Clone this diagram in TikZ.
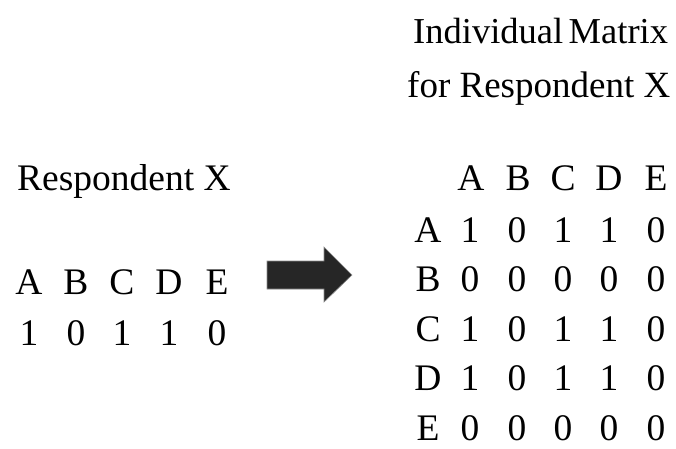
\documentclass[tikz,border=0pt]{standalone}
\usepackage{fontspec}
\setmainfont{Liberation Serif}
\usetikzlibrary{positioning}

\begin{document}
\begin{tikzpicture}[
x=1pt, y=-1pt,
txt/.style={inner sep=0pt, anchor=base, font=\fontsize{37.5}{40}\selectfont},
arrowfill/.style={fill=black!85, draw=black!45, line width=0.6pt}
]
	\useasboundingbox (0,0) rectangle (676,448);

	\node [txt, anchor=base west, font=\fontsize{36.5}{40}\selectfont] at (413,43) (title1) {Individual\hspace{0.15em}Matrix};
	\node [txt, anchor=base west, font=\fontsize{37}{40}\selectfont] at (407,97) (title2) {for Respondent X};
	\node [txt, anchor=base west] at (17,190) (resp) {Respondent X};

	% respondent row
	\foreach \l/\v/\x in {A/1/29, B/0/76, C/1/122, D/1/169, E/0/217} {
		\node [txt] at (\x,294) (top\l) {\l};
		\node [txt] at (\x,345) (val\l) {\v};
	}

	% arrow
	\fill [arrowfill] (267,261) -- (324,261) -- (324,247) -- (352,275)
		-- (324,302) -- (324,289) -- (267,289) -- cycle;

	% matrix
	\foreach \l/\x in {A/471, B/518, C/563, D/609, E/656}
		\node [txt] at (\x,190) (col\l) {\l};
	\foreach \l/\y/\va/\vb/\vc/\vd/\ve in {A/242/1/0/1/1/0, B/291.5/0/0/0/0/0,
			C/341/1/0/1/1/0, D/390.5/1/0/1/1/0, E/440/0/0/0/0/0} {
		\node [txt] at (428,\y) (row\l) {\l};
		\node [txt] at (470,\y) (m\l A) {\va};
		\node [txt] at (517,\y) (m\l B) {\vb};
		\node [txt] at (563,\y) (m\l C) {\vc};
		\node [txt] at (609,\y) (m\l D) {\vd};
		\node [txt] at (656,\y) (m\l E) {\ve};
	}
\end{tikzpicture}
\end{document}
